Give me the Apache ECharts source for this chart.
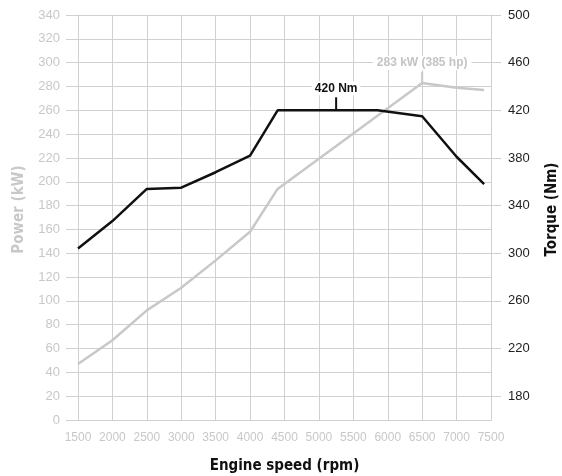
<!DOCTYPE html>
<html>
<head>
<meta charset="utf-8">
<script src="https://cdn.jsdelivr.net/npm/echarts@6/dist/echarts.min.js"></script>
<style>
html,body{margin:0;padding:0;background:#fff;}
#chart{width:562px;height:476px;}
</style>
</head>
<body>
<div id="chart"></div>
<script>
// ---- data ----
const powerRpm = [1500, 2000, 2500, 3000, 3500, 4000, 4400, 6500, 7000, 7400];
const powerKw  = [47, 67, 92, 111, 134, 158, 194, 283, 279, 277];
const torqueRpm = [1500, 2000, 2500, 3000, 3500, 4000, 4400, 5850, 6500, 7000, 7400];
const torqueNm  = [304, 327, 354, 355, 368, 382, 420, 420, 415, 381, 358];
const torqueTicks = [180, 220, 260, 300, 340, 380, 420, 460, 500];
const peakPowerLabel = '283 kW (385 hp)';
const peakTorqueLabel = '420 Nm';
const peakTorqueRpm = 5250;
const peakTorqueValue = 420;

const peakIdx = powerKw.indexOf(Math.max(...powerKw));
const lightGrey = '#c8c8c8';
const gridGrey = '#d0d0d0';
const font = '"Liberation Sans", Arial, sans-serif';
const narrow = '"Liberation Sans Narrow", "DejaVu Sans Condensed", "Liberation Sans", sans-serif';

const chart = echarts.init(document.getElementById('chart'), null, {renderer: 'canvas'});
chart.setOption({
  animation: false,
  backgroundColor: '#fff',
  grid: {left: 78, right: 71, top: 15, bottom: 56, outerBoundsMode: 'none', containLabel: false},
  xAxis: {
    type: 'value', min: 1500, max: 7500, interval: 500,
    name: 'Engine speed (rpm)', nameLocation: 'middle', nameGap: 39,
    nameTextStyle: {fontFamily: narrow, fontWeight: 'bold', fontSize: 15, color: '#111'},
    axisLine: {show: true, lineStyle: {color: gridGrey}},
    axisTick: {show: false},
    axisLabel: {color: lightGrey, fontSize: 12, fontFamily: font, margin: 12,
      formatter: v => String(v)},
    splitLine: {show: true, lineStyle: {color: gridGrey, width: 1}}
  },
  yAxis: [{
    type: 'value', min: 0, max: 340, interval: 20, position: 'left',
    name: 'Power (kW)', nameLocation: 'middle', nameGap: 51, nameRotate: 90,
    nameTextStyle: {fontFamily: narrow, fontWeight: 'bold', fontSize: 15, color: lightGrey,
      padding: [0, 0, 0, 16]},
    axisLine: {show: true, lineStyle: {color: gridGrey}},
    axisTick: {show: true, length: 12, lineStyle: {color: gridGrey}},
    axisLabel: {color: lightGrey, fontSize: 13, fontFamily: font, margin: 18},
    splitLine: {show: true, lineStyle: {color: gridGrey, width: 1}}
  }, {
    type: 'value', min: 160, max: 500, position: 'right',
    name: 'Torque (Nm)', nameLocation: 'middle', nameGap: 54, nameRotate: 90,
    nameTextStyle: {fontFamily: narrow, fontWeight: 'bold', fontSize: 15, color: '#111',
      padding: [0, 0, 0, 16]},
    axisLine: {show: true, lineStyle: {color: gridGrey}},
    axisTick: {show: true, length: 10, lineStyle: {color: gridGrey}, customValues: torqueTicks},
    axisLabel: {color: '#222', fontSize: 13, fontFamily: font, margin: 17, customValues: torqueTicks},
    splitLine: {show: false}
  }],
  series: [{
    type: 'line', name: 'Power', yAxisIndex: 0,
    data: powerRpm.map((r, i) => [r, powerKw[i]]),
    showSymbol: false, symbol: 'none',
    lineStyle: {color: lightGrey, width: 2.5},
    z: 3,
    markPoint: {
      silent: true,
      symbol: 'rect', symbolSize: [2, 11], symbolOffset: [0, -5.5],
      itemStyle: {color: lightGrey},
      label: {
        show: true, position: 'top', distance: 2,
        formatter: peakPowerLabel,
        color: '#c4c4c4', fontWeight: 'bold', fontSize: 12, fontFamily: font,
        backgroundColor: '#fff', padding: [1, 4]
      },
      data: [{coord: [powerRpm[peakIdx], powerKw[peakIdx]]}]
    }
  }, {
    type: 'line', name: 'Torque', yAxisIndex: 1,
    data: torqueRpm.map((r, i) => [r, torqueNm[i]]),
    showSymbol: false, symbol: 'none',
    lineStyle: {color: '#111', width: 2.5},
    z: 4,
    markPoint: {
      silent: true,
      symbol: 'rect', symbolSize: [2, 13], symbolOffset: [0, -6.5],
      itemStyle: {color: '#111'},
      label: {
        show: true, position: 'top', distance: 2,
        formatter: peakTorqueLabel,
        color: '#111', fontWeight: 'bold', fontSize: 12, fontFamily: font,
        backgroundColor: '#fff', padding: [1, 3]
      },
      data: [{coord: [peakTorqueRpm, peakTorqueValue]}]
    }
  }]
});
</script>
</body>
</html>
